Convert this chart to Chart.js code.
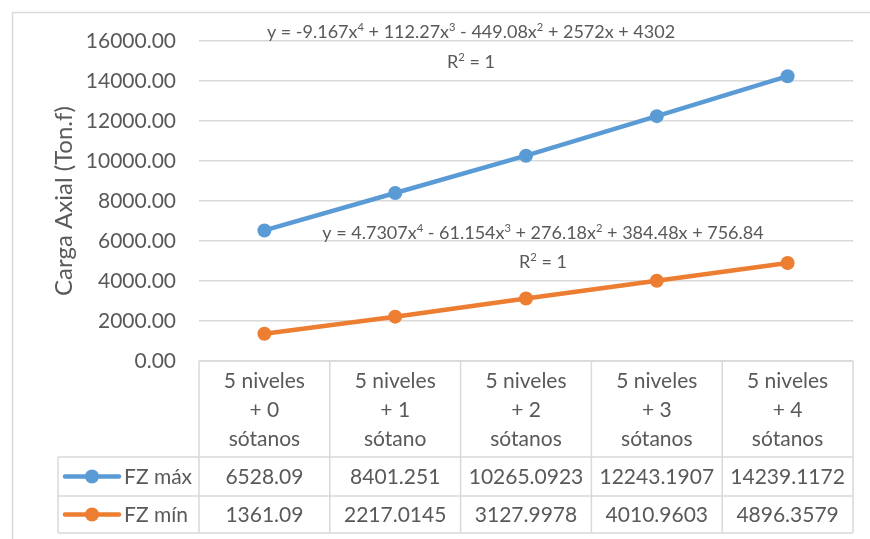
<!DOCTYPE html>
<html>
<head>
<meta charset="utf-8">
<script src="https://cdn.jsdelivr.net/npm/chart.js@4"></script>
<style>
  html, body { margin: 0; padding: 0; background: #fff; }
  #wrap { width: 870px; height: 539px; }
</style>
</head>
<body>
<div id="wrap"><canvas id="myChart" width="870" height="539"></canvas></div>
<script>
// data
const categories = [
  ["5 niveles", "+ 0", "sótanos"],
  ["5 niveles", "+ 1", "sótano"],
  ["5 niveles", "+ 2", "sótanos"],
  ["5 niveles", "+ 3", "sótanos"],
  ["5 niveles", "+ 4", "sótanos"]
]
const fzMax = [6528.09, 8401.251, 10265.0923, 12243.1907, 14239.1172]
const fzMin = [1361.09, 2217.0145, 3127.9978, 4010.9603, 4896.3579]
const yTicks = [0, 2000, 4000, 6000, 8000, 10000, 12000, 14000, 16000]
const eqMax = ["y = -9.167x^4 + 112.27x^3 - 449.08x^2 + 2572x + 4302", "R^2 = 1"]
const eqMin = ["y = 4.7307x^4 - 61.154x^3 + 276.18x^2 + 384.48x + 756.84", "R^2 = 1"]

const FONT = "Lato, 'Open Sans', sans-serif"
const TXT = "#595959"
const GRID = "#D9D9D9"
const BLUE = "#5B9BD5"
const ORANGE = "#ED7D31"

// text with ^superscripts, centred on cx
function supText(ctx, str, cx, cy, size) {
  const parts = []
  for (let i = 0; i < str.length; i++) {
    if (str[i] === "^") { parts.push({ t: str[i + 1], sup: true }); i++ }
    else {
      const last = parts[parts.length - 1]
      if (last && !last.sup) last.t += str[i]
      else parts.push({ t: str[i], sup: false })
    }
  }
  let total = 0
  parts.forEach(p => {
    ctx.font = (p.sup ? size * 0.62 : size) + "px " + FONT
    p.w = ctx.measureText(p.t).width
    total += p.w
  })
  let x = cx - total / 2
  ctx.textAlign = "left"
  ctx.textBaseline = "alphabetic"
  parts.forEach(p => {
    ctx.font = (p.sup ? size * 0.62 : size) + "px " + FONT
    ctx.fillText(p.t, x, p.sup ? cy + size * 0.35 - size * 0.38 : cy + size * 0.35)
    x += p.w
  })
}

const extras = {
  id: "extras",
  beforeDraw(chart) {
    const ctx = chart.ctx
    ctx.save()
    ctx.fillStyle = "#fff"
    ctx.fillRect(0, 0, chart.width, chart.height)
    ctx.strokeStyle = GRID
    ctx.lineWidth = 1.5
    ctx.strokeRect(12.5, 12.5, chart.width + 20, chart.height + 20)
    ctx.restore()
  },
  afterDraw(chart) {
    const ctx = chart.ctx
    const xs = chart.scales.x
    const area = chart.chartArea
    const colW = (area.right - area.left) / categories.length
    const top = area.bottom
    const r1 = top + 96, r2 = r1 + 39, bot = r2 + 37
    const legL = 58
    ctx.save()
    ctx.strokeStyle = GRID
    ctx.lineWidth = 1.5
    // grid of the data table
    ctx.beginPath()
    ctx.moveTo(area.left, top); ctx.lineTo(area.right, top)
    ctx.moveTo(legL, r1); ctx.lineTo(area.right, r1)
    ctx.moveTo(legL, r2); ctx.lineTo(area.right, r2)
    ctx.moveTo(legL, bot); ctx.lineTo(area.right, bot)
    ctx.moveTo(legL, r1); ctx.lineTo(legL, bot)
    for (let i = 0; i <= categories.length; i++) {
      const x = area.left + i * colW
      ctx.moveTo(x, top); ctx.lineTo(x, bot)
    }
    ctx.stroke()

    ctx.fillStyle = TXT
    ctx.font = "21px " + FONT
    ctx.textAlign = "center"
    ctx.textBaseline = "middle"
    categories.forEach((lines, i) => {
      const cx = xs.getPixelForValue(i)
      lines.forEach((l, j) => ctx.fillText(l, cx, top + 20 + j * 29))
      ctx.fillText(String(fzMax[i]), cx, (r1 + r2) / 2 + 1)
      ctx.fillText(String(fzMin[i]), cx, (r2 + bot) / 2 + 1)
    })

    // legend keys in table
    const rows = [[BLUE, "FZ máx", (r1 + r2) / 2], [ORANGE, "FZ mín", (r2 + bot) / 2]]
    rows.forEach(([c, label, y]) => {
      ctx.strokeStyle = c
      ctx.fillStyle = c
      ctx.lineWidth = 4.5
      ctx.lineCap = "round"
      ctx.beginPath(); ctx.moveTo(65, y); ctx.lineTo(119, y); ctx.stroke()
      ctx.beginPath(); ctx.arc(92, y, 7, 0, Math.PI * 2); ctx.fill()
      ctx.fillStyle = TXT
      ctx.textAlign = "left"
      ctx.fillText(label, 124, y + 1)
    })

    // trendline equations
    ctx.fillStyle = TXT
    const cMax = xs.getPixelForValue(2) - 55
    supText(ctx, eqMax[0], cMax, 32, 18)
    supText(ctx, eqMax[1], cMax, 62, 18)
    const cMin = xs.getPixelForValue(2) + 17
    supText(ctx, eqMin[0], cMin, 233, 18)
    supText(ctx, eqMin[1], cMin, 262, 18)
    ctx.restore()
  }
}

const ctx = document.getElementById("myChart")

new Chart(ctx, {
  type: "line",
  data: {
    labels: categories,
    datasets: [
      { label: "FZ máx", data: fzMax, borderColor: BLUE, backgroundColor: BLUE, borderWidth: 4.5, pointRadius: 7, pointBorderWidth: 0, pointBackgroundColor: BLUE },
      { label: "FZ mín", data: fzMin, borderColor: ORANGE, backgroundColor: ORANGE, borderWidth: 4.5, pointRadius: 7, pointBorderWidth: 0, pointBackgroundColor: ORANGE }
    ]
  },
  options: {
    responsive: false,
    animation: false,
    layout: { padding: { top: 41, right: 17, bottom: 178, left: 0 } },
    plugins: { legend: { display: false }, tooltip: { enabled: false } },
    scales: {
      x: { display: false, offset: true },
      y: {
        min: 0,
        max: 16000,
        afterBuildTicks: s => { s.ticks = yTicks.map(v => ({ value: v })) },
        afterFit: s => { s.width = 199 },
        ticks: { color: TXT, font: { size: 21, family: FONT }, padding: 23, callback: v => v.toFixed(2) },
        grid: { color: GRID, lineWidth: 1.5, drawTicks: false },
        border: { display: false },
        title: { display: true, text: "Carga Axial (Ton.f)", color: TXT, font: { size: 24, family: FONT }, padding: { top: 50, bottom: 0 } }
      }
    }
  },
  plugins: [extras]
})
</script>
</body>
</html>
